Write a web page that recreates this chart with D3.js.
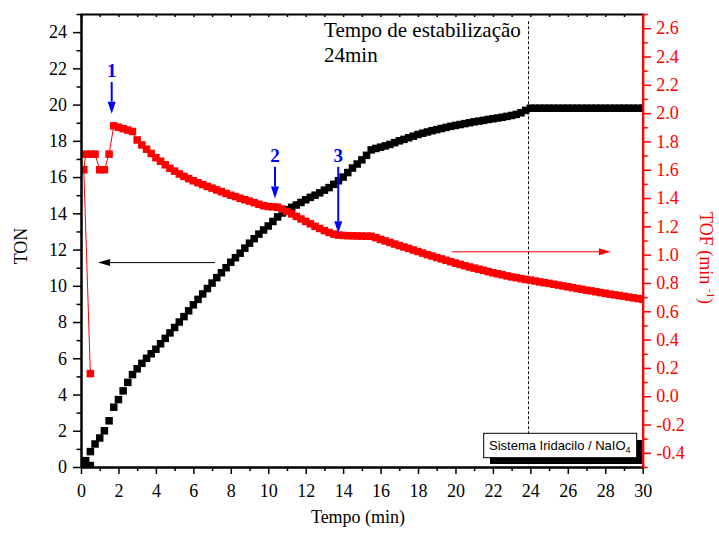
<!DOCTYPE html>
<html><head><meta charset="utf-8">
<script src="https://cdn.jsdelivr.net/npm/d3@7"></script>
<style>
html,body{margin:0;padding:0;background:#fff;}
svg{display:block;}
text{font-family:"Liberation Serif","Times New Roman",serif;}
</style></head><body>
<svg id="chart" width="719" height="533"></svg>
<script>
// Sampling times (min)
const tempo = [
  0.25,0.5,0.75,1,1.25,1.5,1.75,2,2.25,2.5,
  2.75,3,3.25,3.5,3.75,4,4.25,4.5,4.75,5,
  5.25,5.5,5.75,6,6.25,6.5,6.75,7,7.25,7.5,
  7.75,8,8.25,8.5,8.75,9,9.25,9.5,9.75,10,
  10.25,10.5,10.75,11,11.25,11.5,11.75,12,12.25,12.5,
  12.75,13,13.25,13.5,13.75,14,14.25,14.5,14.75,15,
  15.25,15.5,15.75,16,16.25,16.5,16.75,17,17.25,17.5,
  17.75,18,18.25,18.5,18.75,19,19.25,19.5,19.75,20,
  20.25,20.5,20.75,21,21.25,21.5,21.75,22,22.25,22.5,
  22.75,23,23.25,23.5,23.75,24,24.25,24.5,24.75,25,
  25.25,25.5,25.75,26,26.25,26.5,26.75,27,27.25,27.5,
  27.75,28,28.25,28.5,28.75,29,29.25,29.5,29.75,30
];
// Turnover number
const ton = [
  0.35,0.85,1.27,1.60,2.00,2.55,3.30,3.72,4.20,4.67,
  5.10,5.42,5.72,6.00,6.25,6.50,6.80,7.10,7.40,7.70,
  8.00,8.30,8.62,8.95,9.25,9.55,9.85,10.15,10.45,10.72,
  11.00,11.30,11.55,11.80,12.08,12.35,12.60,12.85,13.08,13.30,
  13.55,13.80,14.02,14.20,14.33,14.46,14.60,14.75,14.88,15.00,
  15.13,15.28,15.42,15.60,15.80,16.00,16.25,16.50,16.72,16.95,
  17.20,17.50,17.58,17.65,17.72,17.80,17.90,18.00,18.08,18.17,
  18.26,18.35,18.42,18.49,18.56,18.62,18.68,18.74,18.80,18.85,
  18.90,18.95,19.00,19.05,19.09,19.13,19.18,19.22,19.26,19.30,
  19.35,19.40,19.46,19.55,19.68,19.80,19.80,19.80,19.80,19.80,
  19.80,19.80,19.80,19.80,19.80,19.80,19.80,19.80,19.80,19.80,
  19.80,19.80,19.80,19.80,19.80,19.80,19.80,19.80,19.80,19.80
];
// Turnover frequency (min^-1)
const tof = [
  1.71,1.71,1.71,1.60,1.60,1.71,1.91,1.90,1.89,1.88,
  1.87,1.81,1.775,1.745,1.715,1.685,1.66,1.635,1.61,1.59,
  1.57,1.553,1.537,1.522,1.508,1.495,1.482,1.47,1.457,1.445,
  1.432,1.42,1.41,1.398,1.388,1.378,1.367,1.356,1.346,1.34,
  1.338,1.335,1.322,1.305,1.288,1.27,1.252,1.235,1.218,1.20,
  1.185,1.17,1.157,1.145,1.138,1.136,1.134,1.133,1.132,1.131,
  1.13,1.13,1.12,1.108,1.097,1.086,1.075,1.064,1.054,1.044,
  1.033,1.022,1.011,1.0,0.99,0.98,0.97,0.96,0.95,0.94,
  0.931,0.922,0.913,0.905,0.897,0.889,0.88,0.872,0.865,0.858,
  0.85,0.843,0.837,0.831,0.825,0.82,0.814,0.808,0.802,0.797,
  0.791,0.785,0.779,0.773,0.767,0.761,0.755,0.749,0.744,0.738,
  0.732,0.727,0.721,0.716,0.711,0.706,0.70,0.695,0.69,0.685
];
// First readings, logged ahead of the regular grid
const tonInicioTempo = [0.12, 0.5];
const tonInicio = [0.13, 0.08];
const tofInicioTempo = [0.5, 0.15];
const tofInicio = [0.16, 1.60];

const xTicks = [0,2,4,6,8,10,12,14,16,18,20,22,24,26,28,30];
const tonTicks = [0,2,4,6,8,10,12,14,16,18,20,22,24];
const tofTicks = [-0.4,-0.2,0.0,0.2,0.4,0.6,0.8,1.0,1.2,1.4,1.6,1.8,2.0,2.2,2.4,2.6];

const RED = "#ff0000", BLUE = "#0000ff";
const svg = d3.select("#chart");
const L = 81, R = 642.7, T = 14, B = 467;

const x = d3.scaleLinear().domain([0, 30]).range([L, R]);
const yL = d3.scaleLinear().domain([0, 25]).range([B, T]);
const yR = d3.scaleLinear().domain([-0.5, 2.7]).range([B, T]);

svg.append("clipPath").attr("id", "plotClip")
  .append("rect").attr("x", L).attr("y", T).attr("width", R - L).attr("height", B - T);

// ---- axes ----
function minorVals(lo, hi, step) {
  const out = [];
  for (let v = lo; v <= hi + 1e-9; v += step) out.push(+v.toFixed(3));
  return out;
}
function styleAxis(g, color, fs) {
  g.selectAll("path.domain").attr("stroke", color).attr("stroke-width", 2);
  g.selectAll(".tick line").attr("stroke", color).attr("stroke-width", 1.5);
  g.selectAll(".tick text").attr("fill", color)
    .style("font-family", '"Liberation Serif","Times New Roman",serif')
    .style("font-size", fs + "px");
}

// ---- stabilisation marker ----
svg.append("line")
  .attr("x1", x(23.9)).attr("x2", x(23.9))
  .attr("y1", yL(24.6)).attr("y2", B)
  .attr("stroke", "#000").attr("stroke-width", 1).attr("stroke-dasharray", "3,2");

svg.append("text").attr("x", x(12.98)).attr("y", 36.5)
  .style("font-size", "21px").text("Tempo de estabilização");
svg.append("text").attr("x", x(12.98)).attr("y", 61.5)
  .style("font-size", "21px").text("24min");

// ---- series ----
const MS = 7.5;
const tonPts = tonInicioTempo.map((t, i) => [t, tonInicio[i]])
  .concat(tempo.map((t, i) => [t, ton[i]]));
const tofPts = tofInicioTempo.map((t, i) => [t, tofInicio[i]])
  .concat(tempo.map((t, i) => [t, tof[i]]));

const plot = svg.append("g").attr("clip-path", "url(#plotClip)");
plot.append("g").selectAll("rect").data(tonPts).join("rect")
  .attr("x", d => x(d[0]) - MS / 2).attr("y", d => yL(d[1]) - MS / 2)
  .attr("width", MS).attr("height", MS).attr("fill", "#000");

plot.append("path").datum(tofPts)
  .attr("d", d3.line().x(d => x(d[0])).y(d => yR(d[1])))
  .attr("fill", "none").attr("stroke", RED).attr("stroke-width", 1);
plot.append("g").selectAll("rect").data(tofPts).join("rect")
  .attr("x", d => x(d[0]) - MS / 2).attr("y", d => yR(d[1]) - MS / 2)
  .attr("width", MS).attr("height", MS).attr("fill", RED);

// top frame with inward ticks
const gTop = svg.append("g").attr("transform", `translate(0,${T})`)
  .call(d3.axisTop(x).tickValues(minorVals(0, 30, 1)).tickSize(-3).tickFormat(""));
styleAxis(gTop, "#000", 18);

// bottom
const gBm = svg.append("g").attr("transform", `translate(0,${B})`)
  .call(d3.axisBottom(x).tickValues(minorVals(1, 29, 2)).tickSize(4).tickFormat("").tickSizeOuter(0));
styleAxis(gBm, "#000", 18);
const gB = svg.append("g").attr("transform", `translate(0,${B})`)
  .call(d3.axisBottom(x).tickValues(xTicks).tickSize(7).tickPadding(10).tickSizeOuter(0).tickFormat(d3.format("d")));
styleAxis(gB, "#000", 18);

// left (TON)
const gLm = svg.append("g").attr("transform", `translate(${L},0)`)
  .call(d3.axisLeft(yL).tickValues(minorVals(1, 25, 2)).tickSize(4.5).tickFormat("").tickSizeOuter(0));
styleAxis(gLm, "#000", 18);
const gL = svg.append("g").attr("transform", `translate(${L},0)`)
  .call(d3.axisLeft(yL).tickValues(tonTicks).tickSize(8).tickPadding(6).tickSizeOuter(0).tickFormat(d3.format("d")));
styleAxis(gL, "#000", 18);

// right (TOF)
const gRm = svg.append("g").attr("transform", `translate(${R},0)`)
  .call(d3.axisRight(yR).tickValues(minorVals(-0.5, 2.7, 0.2)).tickSize(5).tickFormat("").tickSizeOuter(0));
styleAxis(gRm, RED, 18);
const gR = svg.append("g").attr("transform", `translate(${R},0)`)
  .call(d3.axisRight(yR).tickValues(tofTicks).tickSize(8.5).tickPadding(5).tickSizeOuter(0)
    .tickFormat(d => d3.format(".1f")(d).replace("−", "-")));
styleAxis(gR, RED, 18);

// ---- arrows ----
function arrow(x1, y1, x2, y2, color, w, len, half) {
  const dx = x2 - x1, dy = y2 - y1, d = Math.hypot(dx, dy);
  const ux = dx / d, uy = dy / d;
  const bx = x2 - ux * len, by = y2 - uy * len;
  svg.append("line").attr("x1", x1).attr("y1", y1).attr("x2", bx).attr("y2", by)
    .attr("stroke", color).attr("stroke-width", w);
  svg.append("path")
    .attr("d", `M${x2},${y2}L${bx - uy * half},${by + ux * half}L${bx + uy * half},${by - ux * half}Z`)
    .attr("fill", color);
}
// axis-pointer arrows
arrow(x(7.16), yL(11.28), x(0.91), yL(11.28), "#000", 1, 12, 3.5);
arrow(x(19.8), yR(1.02), x(28.3), yR(1.02), RED, 1, 12, 3.5);

// numbered event arrows
const eventos = [
  { rot: "1", t: 1.64, topo: 21.25, ponta: 19.5 },
  { rot: "2", t: 10.36, topo: 16.57, ponta: 14.82 },
  { rot: "3", t: 13.74, topo: 16.57, ponta: 12.9 }
];
eventos.forEach(e => {
  arrow(x(e.t), yL(e.topo), x(e.t), yL(e.ponta), BLUE, 2, 12, 4);
  svg.append("text").attr("x", x(e.t)).attr("y", yL(e.topo) - 5)
    .attr("text-anchor", "middle").attr("fill", BLUE)
    .style("font-size", "19px").style("font-weight", "bold").text(e.rot);
});

// ---- legend ----
const lg = svg.append("g");
lg.append("rect").attr("x", 490).attr("y", 440).attr("width", 152).attr("height", 24).attr("fill", "#000");
lg.append("rect").attr("x", 483.7).attr("y", 433.3).attr("width", 153).attr("height", 24.4)
  .attr("fill", "#fff").attr("stroke", "#000").attr("stroke-width", 1);
const lt = lg.append("text").attr("x", 489).attr("y", 449.5)
  .style("font-family", '"Liberation Sans",Arial,sans-serif').style("font-size", "13px");
lt.append("tspan").text("Sistema Iridacilo / NaIO");
lt.append("tspan").attr("dy", 3.5).style("font-size", "9px").text("4");

// ---- axis titles ----
svg.append("text").attr("x", 358).attr("y", 523).attr("text-anchor", "middle")
  .style("font-size", "18px").text("Tempo (min)");
svg.append("text").attr("transform", "translate(27,246) rotate(-90)")
  .attr("text-anchor", "middle").style("font-size", "18px").text("TON");
const tt = svg.append("text").attr("transform", "translate(700,258) rotate(90)")
  .attr("text-anchor", "middle").attr("fill", RED).style("font-size", "18px");
tt.append("tspan").text("TOF (min ");
tt.append("tspan").attr("dy", -7).style("font-size", "11px").text("-1");
tt.append("tspan").attr("dy", 7).text(")");
</script>
</body></html>
